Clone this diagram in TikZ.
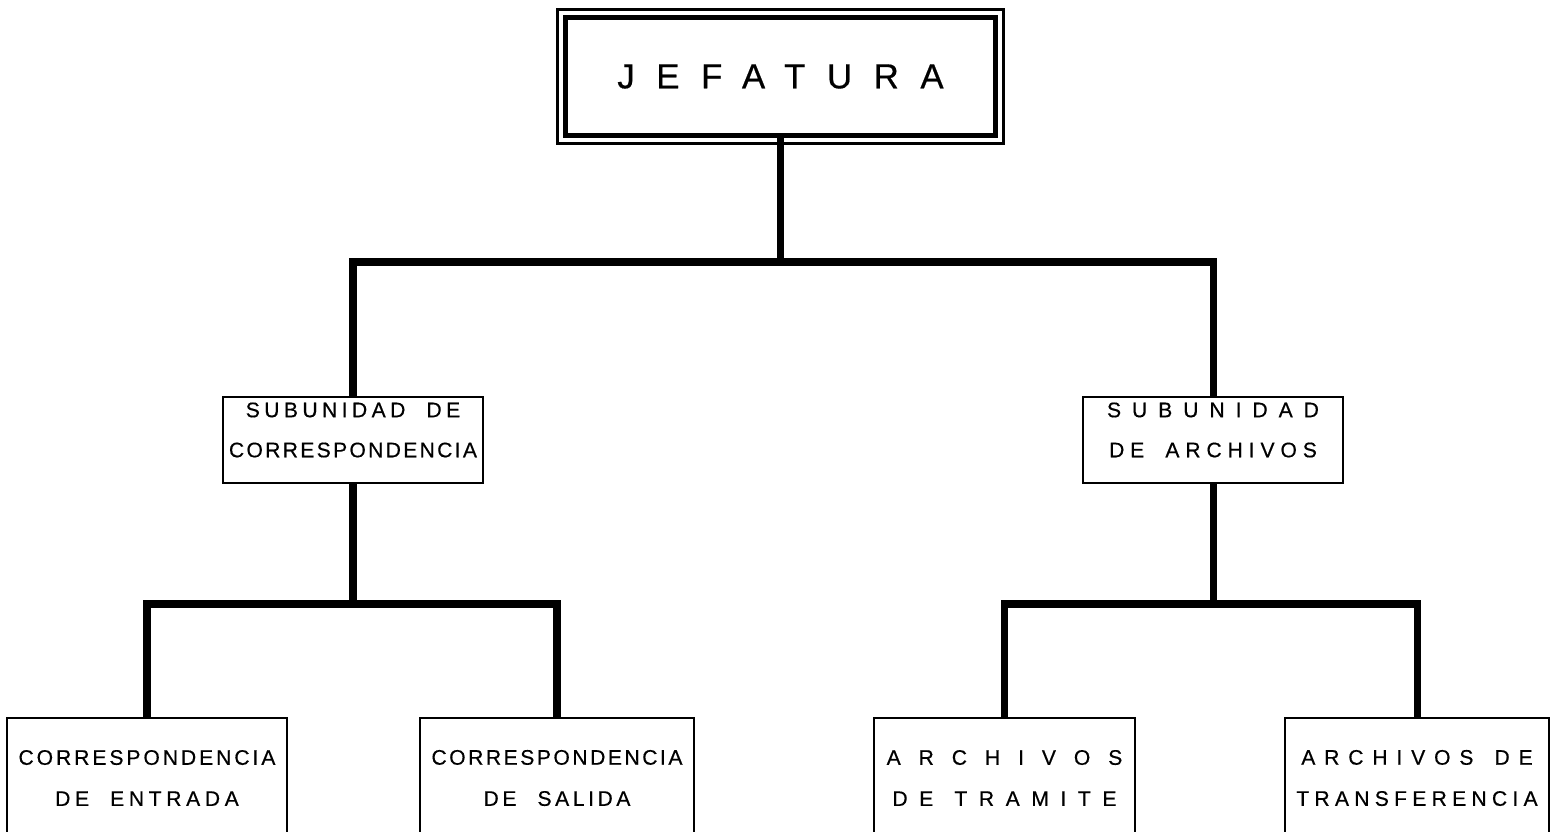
\documentclass[tikz,border=0pt]{standalone}
\usepackage{fontspec}
\setmainfont[FakeBold=0.5]{Liberation Sans}
% espaciado de letras y hueco entre palabras
\newcommand{\ls}[1]{\addfontfeatures{LetterSpace=#1}}
\newcommand{\wsp}{\hspace*{1.0em}}
\tikzset{
  jefebox/.style={draw, line width=1.4pt, minimum width=4.30cm, minimum height=1.18cm,
    font=\fontsize{9.9}{12}\selectfont},
  unitbox/.style={draw, line width=0.6pt, minimum width=2.60cm, minimum height=0.86cm},
  unittext/.style={align=center, inner sep=0pt, font=\fontsize{6}{11.4}\selectfont},
  leafbox/.style={draw, line width=0.6pt, minimum width=2.62cm, minimum height=1.20cm,
    align=center, font=\fontsize{6}{11.7}\selectfont},
  link/.style={line width=2pt},
}
\begin{document}
\begin{tikzpicture}
    \useasboundingbox (0,0) rectangle (15.5,8.31);
    \clip (0,0) rectangle (15.5,8.31);

    % jefatura
    \node[jefebox] (jefe) at (7.805,7.545) {\ls{62}JEFATURA};
    \draw[line width=0.6pt] ([shift={(-0.055,0.055)}]jefe.north west) rectangle ([shift={(0.055,-0.055)}]jefe.south east);

    % subunidades
    \node[unitbox] (subcorr) at (3.53,3.91) {};
    \node[unittext] (subcorr-t) at ([yshift=0.10cm]subcorr.center)
        {{\ls{21}SUBUNIDAD\wsp DE}\\{\ls{11}CORRESPONDENCIA}};
    \node[unitbox] (subarch) at (12.13,3.91) {};
    \node[unittext] (subarch-t) at ([yshift=0.10cm]subarch.center)
        {{\ls{52}SUBUNIDAD}\\{\ls{28}DE\wsp ARCHIVOS}};

    % secciones
    \node[leafbox, minimum width=2.70cm] (entrada) at (1.47,0.53)
        {{\ls{14}CORRESPONDENCIA}\\{\ls{22}DE\wsp ENTRADA}};
    \node[leafbox] (salida) at (5.57,0.53)
        {{\ls{12}CORRESPONDENCIA}\\{\ls{17}DE\wsp SALIDA}};
    \node[leafbox, minimum width=2.61cm] (tramite) at (10.045,0.53)
        {{\ls{85}ARCHIVOS}\\{\ls{55}DE\wsp TRAMITE}};
    \node[leafbox, minimum width=2.60cm] (transf) at (14.17,0.53)
        {{\ls{42}ARCHIVOS\wsp DE}\\{\ls{25}TRANSFERENCIA}};

    % lineas
    \coordinate (top-bar) at (7.805,5.69);
    \coordinate (corr-bar) at (3.53,2.27);
    \coordinate (arch-bar) at (12.13,2.27);
    \draw[link] (jefe.south) -- (top-bar);
    \draw[link] (subcorr.north) |- (top-bar) -| (subarch.north);
    \draw[link] (subcorr.south) -- (corr-bar);
    \draw[link] (entrada.north) |- (corr-bar) -| (salida.north);
    \draw[link] (subarch.south) -- (arch-bar);
    \draw[link] (tramite.north) |- (arch-bar) -| (transf.north);
\end{tikzpicture}
\end{document}
